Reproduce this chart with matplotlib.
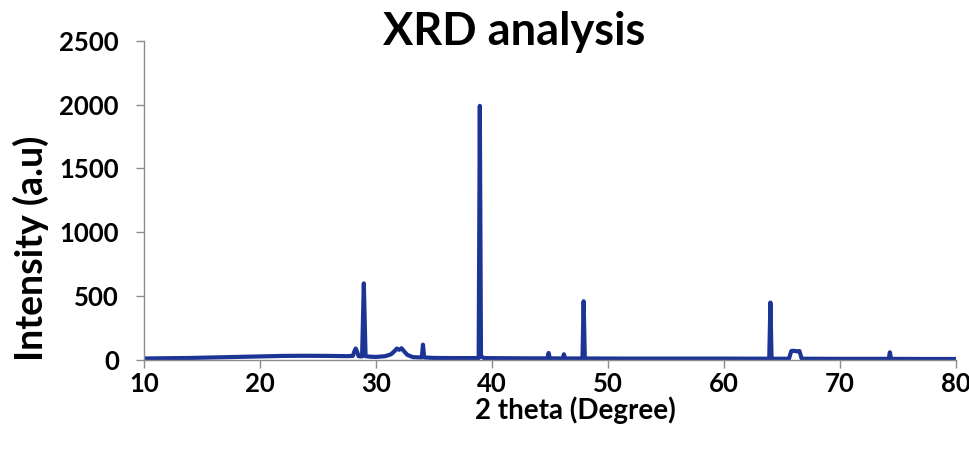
import matplotlib
matplotlib.use("Agg")
import matplotlib.pyplot as plt

# XRD trace: 2 theta (degree) and intensity (a.u)
two_theta = [10, 12, 14, 16, 18, 20, 22, 24, 26, 27.5, 28.0, 28.15, 28.25, 28.35,
             28.5, 28.8, 28.95, 29.1, 29.5, 30, 30.8, 31.3, 31.6, 31.8, 32.0,
             32.2, 32.4, 32.7, 33.2, 33.95, 34.05, 34.15, 35, 37, 38.85,
             38.95, 39.05, 39.3, 41, 43, 44.78, 44.88, 44.98, 46.1, 46.2,
             46.3, 47.8, 47.9, 48.0, 52, 56, 60, 63.9,
             64.0, 64.1, 65.6, 65.8, 66.0, 66.3, 66.5, 66.7, 70, 74.2,
             74.3, 74.4, 77, 80]
intensity = [12, 14, 16, 20, 24, 28, 32, 33, 32, 30, 32, 70, 90, 70,
             30, 28, 600, 30, 26, 24, 30, 45, 70, 90, 80,
             92, 70, 40, 22, 20, 120, 20, 16, 15, 15,
             1990, 30, 15, 14, 13, 13, 55, 13, 12, 45,
             12, 12, 460, 12, 11, 11, 11, 10,
             450, 10, 10, 70, 72, 68, 70, 10, 9, 9,
             60, 9, 8, 8]

x_ticks = [10, 20, 30, 40, 50, 60, 70, 80]
y_ticks = [0, 500, 1000, 1500, 2000, 2500]

font = "Lato"

fig = plt.figure(figsize=(9.7, 4.57), dpi=100)
ax = fig.add_axes([144 / 970, 1 - 360 / 457, (956 - 144) / 970, (360 - 40.7) / 457])

ax.plot(two_theta, intensity, color="#1c3494", linewidth=3,
        solid_joinstyle="round", solid_capstyle="round")

ax.set_xlim(10, 80)
ax.set_ylim(0, 2500)
ax.set_xticks(x_ticks)
ax.set_yticks(y_ticks)

for s in ["top", "right"]:
    ax.spines[s].set_visible(False)
for s in ["left", "bottom"]:
    ax.spines[s].set_color("#8c8c8c")
    ax.spines[s].set_linewidth(1)

ax.tick_params(axis="both", direction="out", length=6, width=1, color="#8c8c8c")
ax.tick_params(axis="y", pad=12)
ax.tick_params(axis="x", pad=3)
for lab in ax.get_xticklabels() + ax.get_yticklabels():
    lab.set_fontfamily(font)
    lab.set_fontweight("bold")
    lab.set_fontsize(18.5)

fig.text(514 / 970, 1 - 32 / 457, "XRD analysis", ha="center", va="center",
         fontsize=32.5, fontweight="bold", family=font)
fig.text(575 / 970, 1 - 410 / 457, "2 theta (Degree)", ha="center", va="center",
         fontsize=20, fontweight="bold", family=font)
fig.text(31 / 970, 1 - 248 / 457, "Intensity (a.u)", ha="center", va="center",
         rotation=90, fontsize=27, fontweight="bold", family=font)

fig.savefig("out.png", dpi=100)
